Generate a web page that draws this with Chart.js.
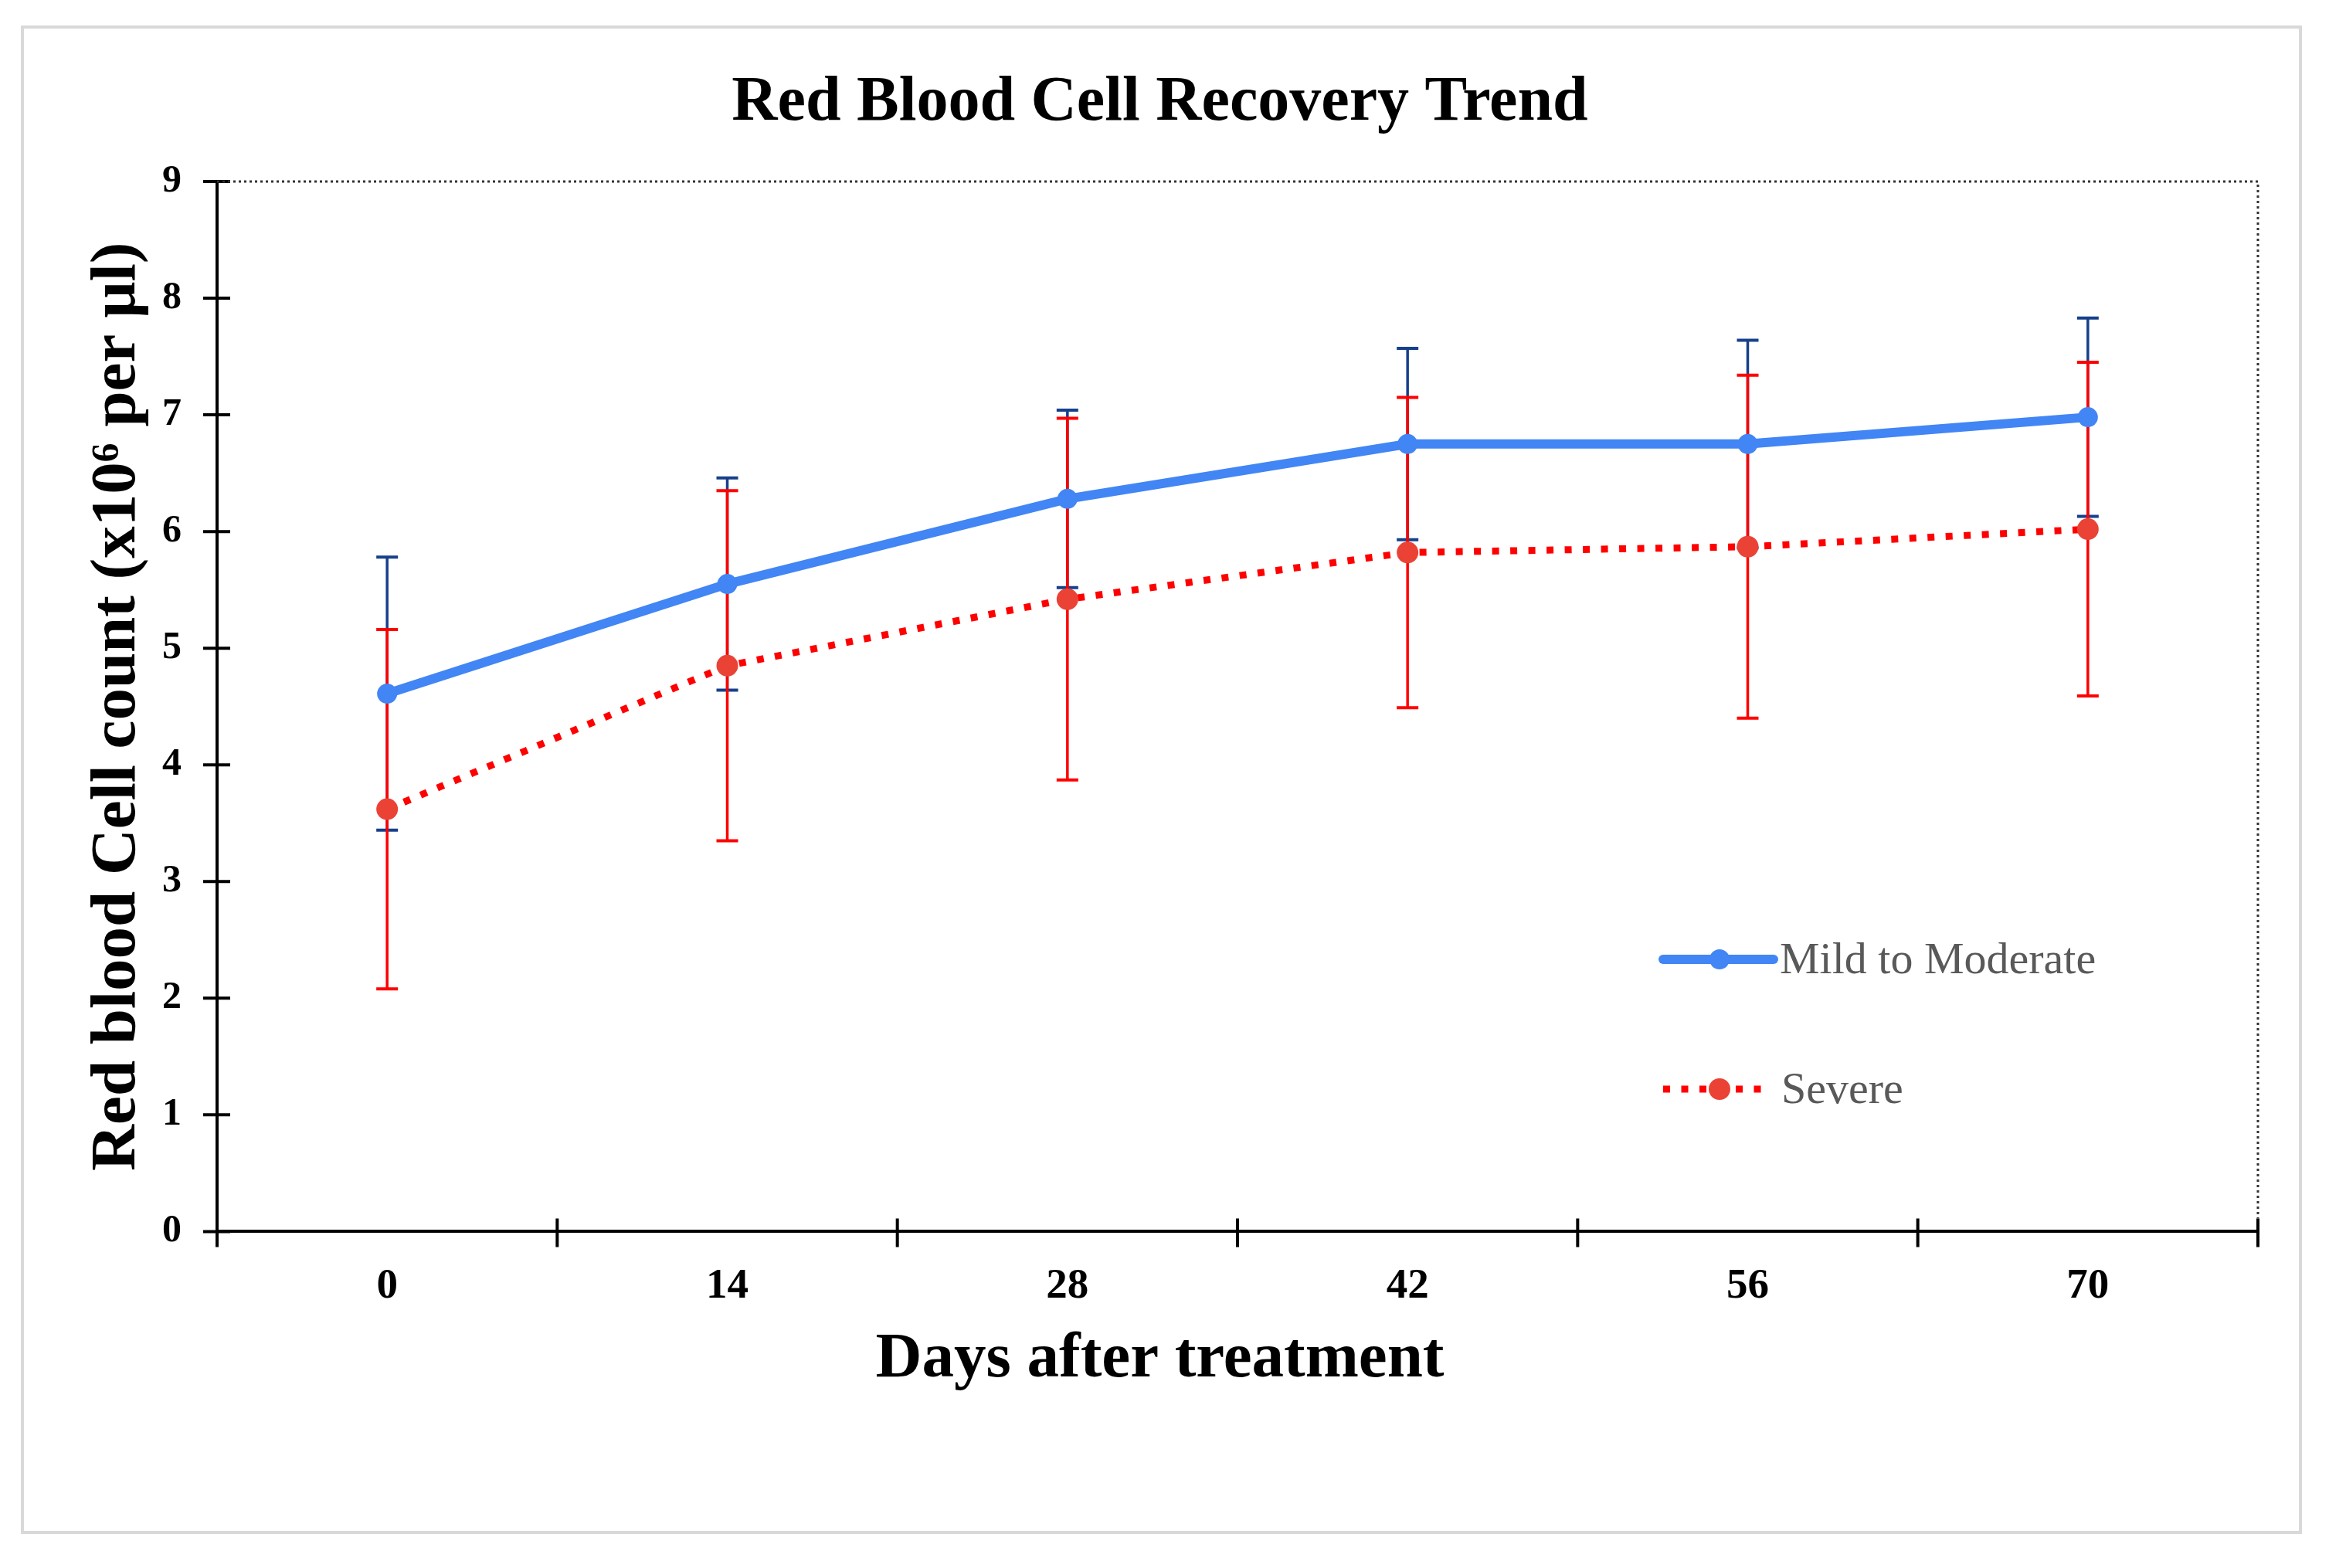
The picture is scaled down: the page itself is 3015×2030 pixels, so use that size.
<!DOCTYPE html>
<html>
<head>
<meta charset="utf-8">
<title>Red Blood Cell Recovery Trend</title>
<script src="https://cdn.jsdelivr.net/npm/chart.js@4.4.1/dist/chart.umd.min.js"></script>
<style>
  html, body { margin: 0; padding: 0; background: #fff; }
  canvas { display: block; }
</style>
</head>
<body>
<canvas id="myChart" width="3015" height="2030"></canvas>
<script>
const days = ['0', '14', '28', '42', '56', '70'];
const yTicks = [0, 1, 2, 3, 4, 5, 6, 7, 8, 9];

const mildMean = [4.61, 5.55, 6.28, 6.75, 6.75, 6.98];
const mildSd = [1.17, 0.91, 0.76, 0.82, 0.89, 0.85];
const severeMean = [3.62, 4.85, 5.42, 5.82, 5.87, 6.02];
const severeSd = [1.54, 1.50, 1.55, 1.33, 1.47, 1.43];

const serif = "'Liberation Serif', 'Times New Roman', serif";
const errColors = ['#17408B', '#FF0000'];
const errSd = [mildSd, severeSd];

// outer frame of the picture
const framePlugin = {
  id: 'frame',
  beforeDraw(chart) {
    const c = chart.ctx;
    c.save();
    c.strokeStyle = '#d9d9d9';
    c.lineWidth = 4;
    c.strokeRect(29, 35, 2949, 1949);
    c.restore();
  }
};

// crossing tick marks + dotted top/right border
const axisPlugin = {
  id: 'axisTicks',
  afterDraw(chart) {
    const c = chart.ctx;
    const a = chart.chartArea;
    const x = chart.scales.x;
    const y = chart.scales.y;
    c.save();
    c.strokeStyle = '#000';
    c.lineWidth = 4;
    c.beginPath();
    yTicks.forEach(v => {
      const py = y.getPixelForValue(v);
      c.moveTo(a.left - 18, py);
      c.lineTo(a.left + 17, py);
    });
    const half = (x.getPixelForValue(1) - x.getPixelForValue(0)) / 2;
    for (let i = 0; i <= days.length; i++) {
      const px = i < days.length ? x.getPixelForValue(i) - half : x.getPixelForValue(days.length - 1) + half;
      c.moveTo(px, a.bottom - 17);
      c.lineTo(px, a.bottom + 20);
    }
    c.stroke();

    c.strokeStyle = '#333';
    c.lineWidth = 3;
    c.setLineDash([3, 4]);
    c.beginPath();
    c.moveTo(a.left, a.top);
    c.lineTo(a.right, a.top);
    c.lineTo(a.right, a.bottom - 17);
    c.stroke();
    c.restore();
  }
};

// error bars drawn under the lines
const errorBarPlugin = {
  id: 'errorBars',
  beforeDatasetsDraw(chart) {
    const c = chart.ctx;
    const x = chart.scales.x;
    const y = chart.scales.y;
    c.save();
    chart.data.datasets.forEach((ds, i) => {
      c.strokeStyle = errColors[i];
      ds.data.forEach((v, j) => {
        const px = x.getPixelForValue(j);
        const top = y.getPixelForValue(v + errSd[i][j]);
        const bot = y.getPixelForValue(v - errSd[i][j]);
        c.lineWidth = 3.5;
        c.beginPath();
        c.moveTo(px, top);
        c.lineTo(px, bot);
        c.stroke();
        c.lineWidth = 4;
        c.beginPath();
        c.moveTo(px - 14, top);
        c.lineTo(px + 14, top);
        c.moveTo(px - 14, bot);
        c.lineTo(px + 14, bot);
        c.stroke();
      });
    });
    c.restore();
  }
};

// legend inside the plot, lower right
const legendPlugin = {
  id: 'innerLegend',
  afterDraw(chart) {
    const c = chart.ctx;
    const rows = [
      { y: 1242, x1: 2153, x2: 2296, tx: 2304 },
      { y: 1410, x1: 2153, x2: 2282, tx: 2306 }
    ];
    c.save();
    chart.data.datasets.forEach((ds, i) => {
      const r = rows[i];
      c.strokeStyle = ds.borderColor;
      c.lineWidth = ds.borderWidth;
      c.lineCap = ds.borderDash ? 'butt' : 'round';
      c.setLineDash(ds.borderDash || []);
      c.beginPath();
      c.moveTo(r.x1, r.y);
      c.lineTo(r.x2, r.y);
      c.stroke();
      c.setLineDash([]);
      c.fillStyle = ds.pointBackgroundColor;
      c.beginPath();
      c.arc(2226, r.y, ds.pointRadius, 0, Math.PI * 2);
      c.fill();
      c.fillStyle = '#595959';
      c.font = '58px ' + serif;
      c.textBaseline = 'alphabetic';
      c.fillText(ds.label, r.tx, r.y + 18);
    });
    c.restore();
  }
};

new Chart(document.getElementById('myChart'), {
  type: 'line',
  data: {
    labels: days,
    datasets: [{
      label: 'Mild to Moderate',
      data: mildMean,
      borderColor: '#4285F4',
      borderWidth: 12,
      pointBackgroundColor: '#4285F4',
      pointBorderWidth: 0,
      pointRadius: 13,
      tension: 0
    }, {
      label: 'Severe',
      data: severeMean,
      borderColor: '#FF0000',
      borderWidth: 9,
      borderDash: [9, 14.5],
      borderCapStyle: 'butt',
      pointBackgroundColor: '#EA4335',
      pointBorderWidth: 0,
      pointRadius: 14,
      tension: 0
    }]
  },
  options: {
    responsive: false,
    animation: false,
    devicePixelRatio: 1,
    layout: { padding: { left: 80, right: 92, top: 30, bottom: 220 } },
    plugins: {
      legend: { display: false },
      tooltip: { enabled: false },
      title: {
        display: true,
        text: 'Red Blood Cell Recovery Trend',
        color: '#000',
        font: { family: serif, size: 82, weight: 'bold' },
        padding: { top: 54.8, bottom: 51.8 }
      },
      subtitle: {
        display: true,
        position: 'bottom',
        text: 'Days after treatment',
        color: '#000',
        font: { family: serif, size: 83, weight: 'bold' },
        padding: { top: 6, bottom: 0 }
      }
    },
    scales: {
      x: {
        type: 'category',
        offset: true,
        grid: { display: false, drawTicks: false },
        border: { display: true, color: '#000', width: 4 },
        ticks: {
          color: '#000',
          padding: 38,
          font: { family: serif, size: 55, weight: 'bold' }
        },
        afterFit(s) { s.height = 110; }
      },
      y: {
        min: 0,
        max: 9,
        grid: { display: false, drawTicks: false },
        border: { display: true, color: '#000', width: 4 },
        ticks: {
          stepSize: 1,
          color: '#000',
          padding: 46,
          font: { family: serif, size: 50, weight: 'bold' }
        },
        title: {
          display: true,
          text: 'Red blood Cell count (x10\u2076 per \u00B5l)',
          color: '#000',
          font: { family: serif, size: 83, weight: 'bold' },
          padding: { top: 23, bottom: 0 }
        },
        afterFit(s) { s.width = 201; }
      }
    }
  },
  plugins: [framePlugin, errorBarPlugin, axisPlugin, legendPlugin]
});
</script>
</body>
</html>
